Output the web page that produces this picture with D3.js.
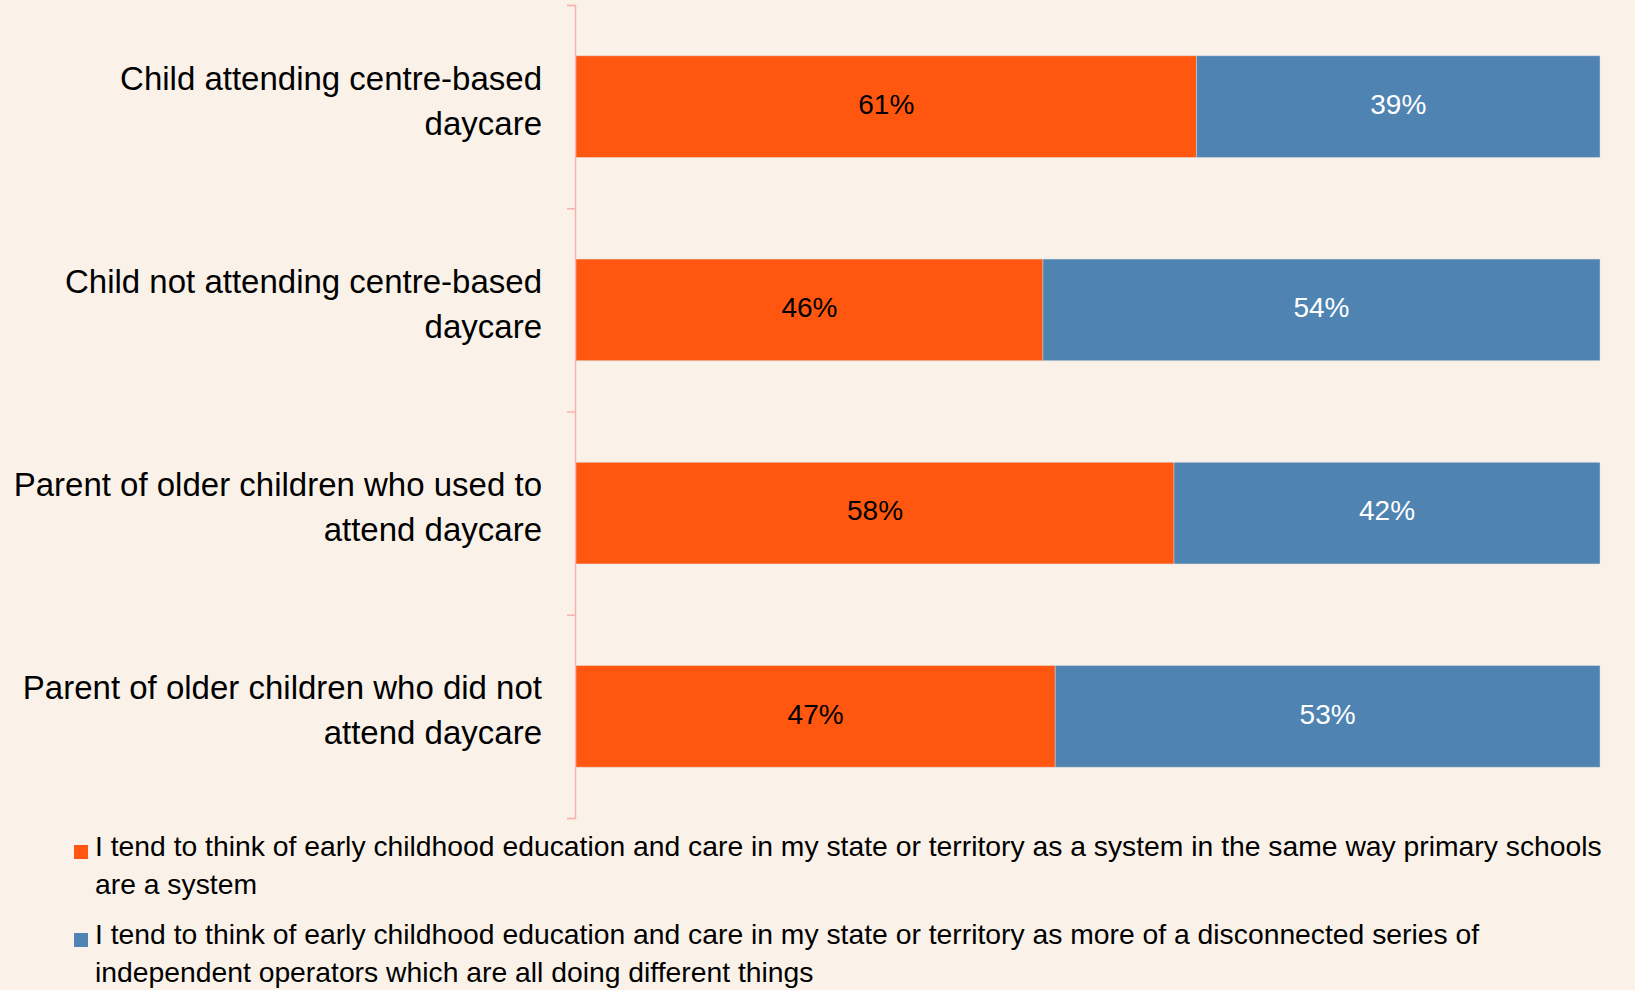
<!DOCTYPE html>
<html>
<head>
<meta charset="utf-8">
<script src="https://cdn.jsdelivr.net/npm/d3@7"></script>
<style>
  html, body { margin: 0; padding: 0; background: #faf2e9; }
  svg text { font-family: "Liberation Sans", Arial, sans-serif; }
</style>
</head>
<body>
<div id="chart"></div>
<script>
// categories, one array of lines per bar
const categories = [
  ["Child attending centre-based", "daycare"],
  ["Child not attending centre-based", "daycare"],
  ["Parent of older children who used to", "attend daycare"],
  ["Parent of older children who did not", "attend daycare"]
];

// share of respondents (%)
const systemValues = [60.6, 45.6, 58.4, 46.8];
const disconnectedValues = [39.4, 54.4, 41.6, 53.2];

const legendLabels = [
  ["I tend to think of early childhood education and care in my state or territory as a system in the same way primary schools",
   "are a system"],
  ["I tend to think of early childhood education and care in my state or territory as more of a disconnected series of",
   "independent operators which are all doing different things"]
];

const colors = ["#ff570f", "#4e83b2"];
const textColors = ["#000000", "#ffffff"];

const width = 1635, height = 990;

const svg = d3.select("#chart")
  .append("svg")
  .attr("width", width)
  .attr("height", height);

svg.append("rect")
  .attr("width", width)
  .attr("height", height)
  .attr("fill", "#faf2e9");

const keys = categories.map((d) => d.join(" "));

const y = d3.scaleBand()
  .domain(keys)
  .range([5, 818])
  .paddingInner(0.5)
  .paddingOuter(0.25);

const x = d3.scaleLinear()
  .domain([0, 100])
  .range([576, 1600]);

// axis ticks sit on the band boundaries
const yEdge = d3.scaleLinear()
  .domain([0, keys.length])
  .range([5, 818]);

svg.append("g")
  .attr("transform", "translate(575,0)")
  .call(d3.axisLeft(yEdge).tickValues(d3.range(keys.length + 1)).tickSize(8).tickFormat(""))
  .call((g) => g.selectAll("path, line").attr("stroke", "#f8b2b0").attr("stroke-width", 1.5));

const rows = keys.map((k, i) => ({
  key: k,
  lines: categories[i],
  parts: [
    { start: 0, value: systemValues[i], s: 0 },
    { start: systemValues[i], value: disconnectedValues[i], s: 1 }
  ]
}));

const row = svg.selectAll(".row")
  .data(rows)
  .enter()
  .append("g")
  .attr("class", "row");

row.selectAll("rect")
  .data((d) => d.parts.map((p) => ({ ...p, key: d.key })))
  .enter()
  .append("rect")
  .attr("x", (d) => x(d.start))
  .attr("y", (d) => y(d.key))
  .attr("width", (d) => x(d.start + d.value) - x(d.start))
  .attr("height", y.bandwidth())
  .attr("fill", (d) => colors[d.s])
  .attr("stroke", "rgba(220,220,220,0.6)")
  .attr("stroke-width", 0.75);

row.selectAll(".val")
  .data((d) => d.parts.map((p) => ({ ...p, key: d.key })))
  .enter()
  .append("text")
  .attr("class", "val")
  .attr("x", (d) => x(d.start + d.value / 2))
  .attr("y", (d) => y(d.key) + y.bandwidth() / 2)
  .attr("dy", "0.26em")
  .attr("text-anchor", "middle")
  .attr("font-size", 28)
  .attr("fill", (d) => textColors[d.s])
  .text((d) => Math.round(d.value) + "%");

// category labels, two lines each
row.append("text")
  .attr("text-anchor", "end")
  .attr("font-size", 33)
  .attr("fill", "#000")
  .selectAll("tspan")
  .data((d) => d.lines.map((l, j) => ({ l, j, key: d.key })))
  .enter()
  .append("tspan")
  .attr("x", 542)
  .attr("y", (d) => y(d.key) + y.bandwidth() / 2 - 17 + d.j * 45)
  .text((d) => d.l);

// legend
const legend = svg.selectAll(".legend")
  .data(legendLabels)
  .enter()
  .append("g")
  .attr("class", "legend")
  .attr("transform", (d, i) => `translate(0,${856 + i * 88})`);

legend.append("rect")
  .attr("x", 74)
  .attr("y", -11)
  .attr("width", 14)
  .attr("height", 14)
  .attr("fill", (d, i) => colors[i]);

legend.append("text")
  .attr("font-size", 28.3)
  .attr("fill", "#000")
  .selectAll("tspan")
  .data((d) => d)
  .enter()
  .append("tspan")
  .attr("x", 95)
  .attr("y", (d, j) => j * 38)
  .text((d) => d);
</script>
</body>
</html>
